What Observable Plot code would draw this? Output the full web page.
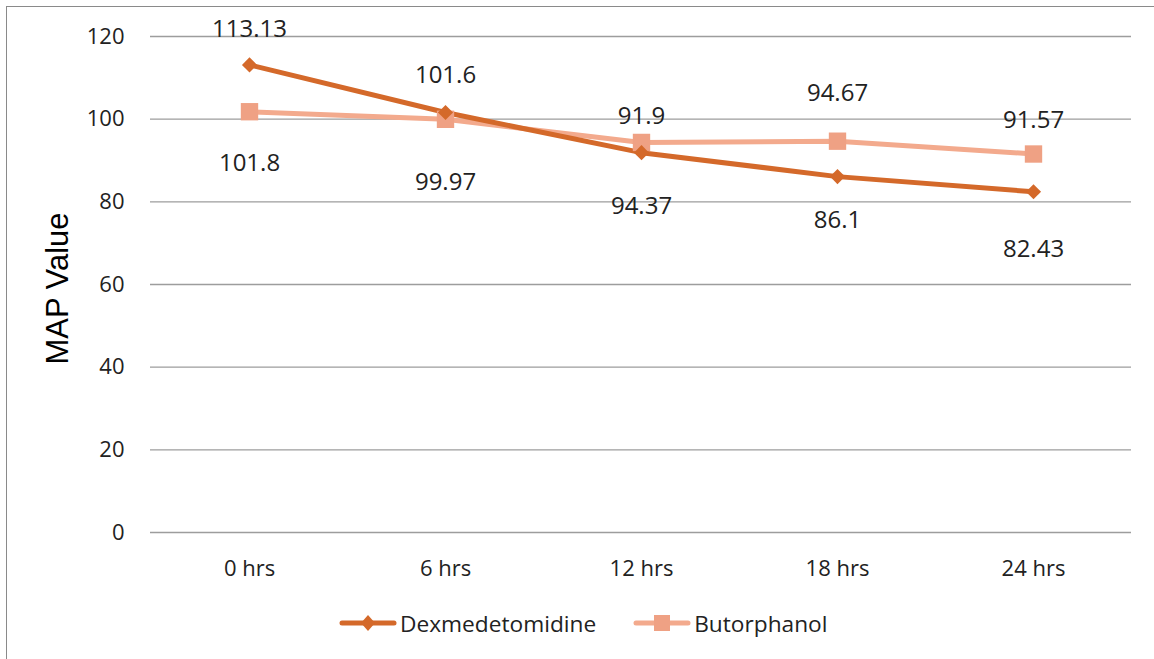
<!DOCTYPE html>
<html>
<head>
<meta charset="utf-8">
<script src="https://cdn.jsdelivr.net/npm/d3@7"></script>
<script src="https://cdn.jsdelivr.net/npm/@observablehq/plot@0.6"></script>
<style>
  html, body { margin: 0; padding: 0; background: #fff; width: 1154px; height: 659px; overflow: hidden; position: relative; }
  #caption { position: absolute; left: 0; top: 0; width: 1154px; height: 6px; overflow: hidden; }
  #caption span { position: absolute; left: 212px; top: -26px; font-family: "Liberation Serif", serif; font-size: 24px; line-height: 24px; color: #000; white-space: nowrap; }
  #frame { position: absolute; left: 6px; top: 6px; right: -2px; bottom: -2px; border-left: 1.5px solid #8a8a8a; border-top: 1.5px solid #8a8a8a; }
  #chart { position: absolute; left: 0; top: 0; }
  #legend { position: absolute; left: 339px; top: 608px; height: 30px; display: flex; align-items: center; font-family: "Open Sans", sans-serif; font-size: 22.7px; color: #222; }
  .item { display: flex; align-items: center; }
  .item + .item { margin-left: 37px; }
  .item svg { display: block; margin-right: 3px; }
</style>
</head>
<body>
<div id="caption"><span><b>Graph 3:</b> The diagram showing comparison of MAP among groups</span></div>
<div id="frame"></div>
<div id="chart"></div>
<div id="legend"></div>
<script>
const categories = ["0 hrs", "6 hrs", "12 hrs", "18 hrs", "24 hrs"];
const seriesNames = ["Dexmedetomidine", "Butorphanol"];
const dexValues = [113.13, 101.6, 91.9, 86.1, 82.43];
const butValues = [101.8, 99.97, 94.37, 94.67, 91.57];
const yTicks = [0, 20, 40, 60, 80, 100, 120];
// label offsets (px) from each point, as placed in the original chart
const dexLabelDy = [-36, -37, -36, 44, 58];
const butLabelDy = [52, 63, 64, -48, -34];

const colors = { "Dexmedetomidine": "#d4692a", "Butorphanol": "#f3aa8d" };
const markerColors = { "Dexmedetomidine": "#d4692a", "Butorphanol": "#efa184" };
const symbols = { "Dexmedetomidine": "diamond", "Butorphanol": "square" };

const rows = [];
categories.forEach((c, i) => rows.push({ time: c, series: seriesNames[0], value: dexValues[i], dy: dexLabelDy[i] }));
categories.forEach((c, i) => rows.push({ time: c, series: seriesNames[1], value: butValues[i], dy: butLabelDy[i] }));

const dex = rows.filter(d => d.series === seriesNames[0]);
const but = rows.filter(d => d.series === seriesNames[1]);

const chart = Plot.plot({
  width: 1154,
  height: 600,
  marginTop: 36,
  marginBottom: 68,
  marginLeft: 150,
  marginRight: 23,
  style: { fontFamily: "'Open Sans', sans-serif", color: "#222", background: "transparent" },
  x: { type: "point", domain: categories, padding: 0.5, label: null },
  y: { domain: [0, 120], ticks: yTicks, label: null },
  marks: [
    Plot.gridY(yTicks, { stroke: "#9d9d9d", strokeOpacity: 1, strokeWidth: 1.3 }),
    Plot.axisY(yTicks, { tickSize: 0, tickPadding: 26, fontSize: 22, fill: "#222", label: null }),
    Plot.axisX({ tickSize: 0, tickPadding: 28, fontSize: 22, fill: "#222", label: null }),
    Plot.text(["MAP Value"], { frameAnchor: "left", textAnchor: "middle", dx: -92, dy: 4, rotate: -90, fontSize: 31, fontFamily: "'Liberation Sans', Arial, sans-serif", fill: "#000" }),
    Plot.line(but, { x: "time", y: "value", stroke: colors["Butorphanol"], strokeWidth: 5 }),
    Plot.line(dex, { x: "time", y: "value", stroke: colors["Dexmedetomidine"], strokeWidth: 5 }),
    Plot.dot(but, { x: "time", y: "value", symbol: "square", r: 9.8, fill: markerColors["Butorphanol"], stroke: "none" }),
    Plot.dot(dex, { x: "time", y: "value", symbol: "diamond2", r: 6.8, fill: markerColors["Dexmedetomidine"], stroke: "none" }),
    ...rows.map(r => Plot.text([r], { x: "time", y: "value", dy: r.dy, text: d => String(d.value), fontSize: 24, fill: "#222" }))
  ]
});
document.getElementById("chart").appendChild(chart);

// legend
const legend = d3.select("#legend");
seriesNames.forEach(name => {
  const item = legend.append("div").attr("class", "item");
  const svg = item.append("svg").attr("width", 58).attr("height", 24);
  svg.append("line").attr("x1", 3).attr("x2", 55).attr("y1", 12).attr("y2", 12)
    .attr("stroke", colors[name]).attr("stroke-width", 5).attr("stroke-linecap", "round");
  if (symbols[name] === "square") {
    svg.append("rect").attr("x", 29 - 8).attr("y", 12 - 8).attr("width", 16).attr("height", 16).attr("fill", markerColors[name]);
  } else {
    svg.append("path").attr("d", "M29,4L36,12L29,20L22,12Z").attr("fill", markerColors[name]);
  }
  item.append("span").text(name);
});
</script>
</body>
</html>
